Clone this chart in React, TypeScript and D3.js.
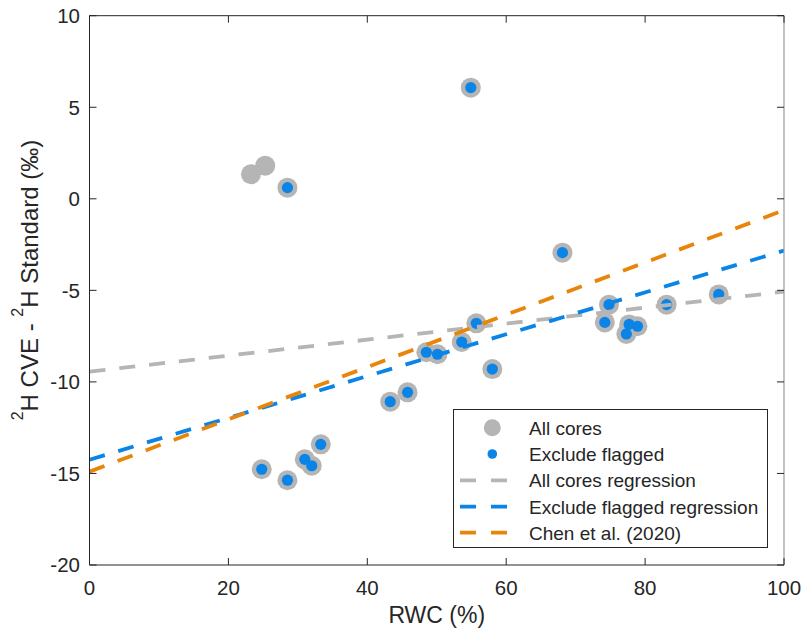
import React from "react";
import * as d3 from "d3";

const rwc = [23.25, 25.3, 28.5, 54.9, 48.5, 50.1, 53.6, 55.7, 58.0, 43.3, 45.8, 68.1, 74.8, 74.2, 77.7, 78.9, 77.3, 83.1, 90.6, 24.8, 28.5, 31.0, 32.0, 33.3];
const diff = [1.34, 1.81, 0.61, 6.07, -8.38, -8.49, -7.82, -6.8, -9.3, -11.08, -10.57, -2.94, -5.78, -6.75, -6.86, -6.96, -7.38, -5.78, -5.22, -14.77, -15.37, -14.23, -14.58, -13.41];
const flagged = [true, true, false, false, false, false, false, false, false, false, false, false, false, false, false, false, false, false, false, false, false, false, false, false];

const regX = [0, 100];
const allCoresReg = [-9.44, -5.07];
const excludeReg = [-14.25, -2.83];
const chenReg = [-14.9, -0.62];

const xTicks = [0, 20, 40, 60, 80, 100];
const yTicks = [-20, -15, -10, -5, 0, 5, 10];

const legendLabels = ["All cores", "Exclude flagged", "All cores regression", "Exclude flagged regression", "Chen et al. (2020)"];

const GRAY = "#b5b5b5";
const BLUE = "#0a84e6";
const ORANGE = "#e8850b";
const AX = "#262626";
const FONT = "'Liberation Sans', Arial, Helvetica, sans-serif";

export default function App() {
  const W = 803, H = 630;
  const L = 89.5, R = 784, T = 15.7, B = 565;
  const x = d3.scaleLinear().domain([0, 100]).range([L, R]);
  const y = d3.scaleLinear().domain([-20, 10]).range([B, T]);
  const line = d3.line<[number, number]>().x(d => x(d[0])).y(d => y(d[1]));
  const regs = [
    { vals: allCoresReg, color: GRAY },
    { vals: excludeReg, color: BLUE },
    { vals: chenReg, color: ORANGE },
  ];
  const tickLen = 7;
  const dash = "16 14";
  const lw = 3.8;
  const legX = 453.5, legY = 409.5, legW = 314, legH = 138;
  const rowY = [427.7, 454, 480.3, 506.7, 532.7];
  return (
    <svg width={W} height={H} style={{ position: "absolute", left: 0, top: 0, display: "block", background: "#fff" }} fontFamily={FONT}>
      <defs>
        <clipPath id="plotclip">
          <rect x={L} y={T} width={R - L} height={B - T} />
        </clipPath>
      </defs>
      <rect x={0} y={0} width={W} height={H} fill="#fff" />
      {/* points */}
      <g>
        {rwc.map((v, i) => (
          <circle key={"g" + i} cx={x(v)} cy={y(diff[i])} r={10} fill={GRAY} />
        ))}
        {rwc.map((v, i) =>
          flagged[i] ? null : <circle key={"b" + i} cx={x(v)} cy={y(diff[i])} r={5.6} fill={BLUE} />
        )}
      </g>
      {/* regression lines */}
      <g clipPath="url(#plotclip)">
        {regs.map((r, i) => (
          <path
            key={i}
            d={line(regX.map((xv, j) => [xv, r.vals[j]] as [number, number])) || ""}
            fill="none"
            stroke={r.color}
            strokeWidth={lw}
            strokeDasharray={dash}
          />
        ))}
      </g>
      {/* axes box */}
      <g stroke={AX} strokeWidth={1} fill="none">
        <line x1={L} y1={B} x2={R} y2={B} />
        <line x1={L} y1={T} x2={R} y2={T} />
        <line x1={L} y1={T} x2={L} y2={B} />
        <line x1={R} y1={T} x2={R} y2={B} stroke="#9a9a9a" strokeWidth={1.2} />
        {xTicks.map(t => (
          <g key={"xt" + t}>
            <line x1={x(t)} x2={x(t)} y1={B} y2={B - tickLen} />
            <line x1={x(t)} x2={x(t)} y1={T} y2={T + tickLen} />
          </g>
        ))}
        {yTicks.map(t => (
          <g key={"yt" + t}>
            <line x1={L} x2={L + tickLen} y1={y(t)} y2={y(t)} />
            <line x1={R} x2={R - tickLen} y1={y(t)} y2={y(t)} />
          </g>
        ))}
      </g>
      {/* tick labels */}
      <g fill={AX} fontSize={20.5}>
        {xTicks.map(t => (
          <text key={"xl" + t} x={x(t)} y={594.5} textAnchor="middle">{t}</text>
        ))}
        {yTicks.map(t => (
          <text key={"yl" + t} x={80} y={y(t) + 7.3} textAnchor="end">{t}</text>
        ))}
      </g>
      {/* axis labels */}
      <text x={(L + R) / 2} y={623} textAnchor="middle" fill={AX} fontSize={23}>RWC (%)</text>
      <text transform={`translate(38, 280) rotate(-90)`} textAnchor="middle" fill={AX} fontSize={24}>
        <tspan fontSize={16} dy={-15}>2</tspan>
        <tspan dy={15}>H CVE - </tspan>
        <tspan fontSize={16} dy={-15}>2</tspan>
        <tspan dy={15}>H Standard (‰)</tspan>
      </text>
      {/* legend */}
      <g>
        <rect x={legX} y={legY} width={legW} height={legH} fill="#fff" stroke={AX} strokeWidth={1} />
        <circle cx={492.3} cy={rowY[0]} r={8.5} fill={GRAY} />
        <circle cx={492.3} cy={rowY[1]} r={4.8} fill={BLUE} />
        {[GRAY, BLUE, ORANGE].map((c, i) => (
          <line key={"ll" + i} x1={460} x2={508} y1={rowY[i + 2]} y2={rowY[i + 2]} stroke={c} strokeWidth={lw} strokeDasharray="16 15" />
        ))}
        {legendLabels.map((s, i) => (
          <text key={"lt" + i} x={529} y={rowY[i] + 6.8} fill={AX} fontSize={19}>{s}</text>
        ))}
      </g>
    </svg>
  );
}
